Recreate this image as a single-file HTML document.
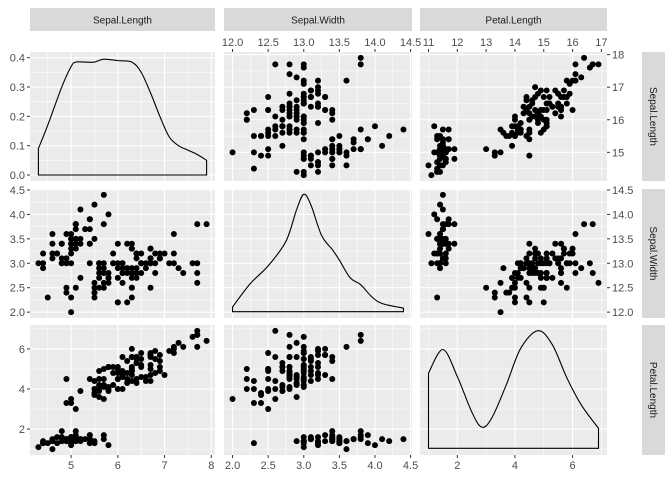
<!DOCTYPE html>
<html><head><meta charset="utf-8"><style>
body{margin:0;background:#fff}
svg{display:block;font-family:"Liberation Sans",sans-serif}
</style></head><body>
<svg id="chart" width="672" height="480" viewBox="0 0 672 480" xmlns="http://www.w3.org/2000/svg"></svg>
<script>
const varNames = ["Sepal.Length","Sepal.Width","Petal.Length"];
const sepalLength = [5.1,4.9,4.7,4.6,5.0,5.4,4.6,5.0,4.4,4.9,5.4,4.8,4.8,4.3,5.8,5.7,5.4,5.1,5.7,5.1,5.4,5.1,4.6,5.1,4.8,5.0,5.0,5.2,5.2,4.7,4.8,5.4,5.2,5.5,4.9,5.0,5.5,4.9,4.4,5.1,5.0,4.5,4.4,5.0,5.1,4.8,5.1,4.6,5.3,5.0,
7.0,6.4,6.9,5.5,6.5,5.7,6.3,4.9,6.6,5.2,5.0,5.9,6.0,6.1,5.6,6.7,5.6,5.8,6.2,5.6,5.9,6.1,6.3,6.1,6.4,6.6,6.8,6.7,6.0,5.7,5.5,5.5,5.8,6.0,5.4,6.0,6.7,6.3,5.6,5.5,5.5,6.1,5.8,5.0,5.6,5.7,5.7,6.2,5.1,5.7,
6.3,5.8,7.1,6.3,6.5,7.6,4.9,7.3,6.7,7.2,6.5,6.4,6.8,5.7,5.8,6.4,6.5,7.7,7.7,6.0,6.9,5.6,7.7,6.3,6.7,7.2,6.2,6.1,6.4,7.2,7.4,7.9,6.4,6.3,6.1,7.7,6.3,6.4,6.0,6.9,6.7,6.9,5.8,6.8,6.7,6.7,6.3,6.5,6.2,5.9];
const sepalWidth = [3.5,3.0,3.2,3.1,3.6,3.9,3.4,3.4,2.9,3.1,3.7,3.4,3.0,3.0,4.0,4.4,3.9,3.5,3.8,3.8,3.4,3.7,3.6,3.3,3.4,3.0,3.4,3.5,3.4,3.2,3.1,3.4,4.1,4.2,3.1,3.2,3.5,3.6,3.0,3.4,3.5,2.3,3.2,3.5,3.8,3.0,3.8,3.2,3.7,3.3,
3.2,3.2,3.1,2.3,2.8,2.8,3.3,2.4,2.9,2.7,2.0,3.0,2.2,2.9,2.9,3.1,3.0,2.7,2.2,2.5,3.2,2.8,2.5,2.8,2.9,3.0,2.8,3.0,2.9,2.6,2.4,2.4,2.7,2.7,3.0,3.4,3.1,2.3,3.0,2.5,2.6,3.0,2.6,2.3,2.7,3.0,2.9,2.9,2.5,2.8,
3.3,2.7,3.0,2.9,3.0,3.0,2.5,2.9,2.5,3.6,3.2,2.7,3.0,2.5,2.8,3.2,3.0,3.8,2.6,2.2,3.2,2.8,2.8,2.7,3.3,3.2,2.8,3.0,2.8,3.0,2.8,3.8,2.8,2.8,2.6,3.0,3.4,3.1,3.0,3.1,3.1,3.1,2.7,3.2,3.3,3.0,2.5,3.0,3.4,3.0];
const petalLength = [1.4,1.4,1.3,1.5,1.4,1.7,1.4,1.5,1.4,1.5,1.5,1.6,1.4,1.1,1.2,1.5,1.3,1.4,1.7,1.5,1.7,1.5,1.0,1.7,1.9,1.6,1.6,1.5,1.4,1.6,1.6,1.5,1.5,1.4,1.5,1.2,1.3,1.4,1.3,1.5,1.3,1.3,1.3,1.6,1.9,1.4,1.6,1.4,1.5,1.4,
4.7,4.5,4.9,4.0,4.6,4.5,4.7,3.3,4.6,3.9,3.5,4.2,4.0,4.7,3.6,4.4,4.5,4.1,4.5,3.9,4.8,4.0,4.9,4.7,4.3,4.4,4.8,5.0,4.5,3.5,3.8,3.7,3.9,5.1,4.5,4.5,4.7,4.4,4.1,4.0,4.4,4.6,4.0,3.3,4.2,4.2,4.2,4.3,3.0,4.1,
6.0,5.1,5.9,5.6,5.8,6.6,4.5,6.3,5.8,6.1,5.1,5.3,5.5,5.0,5.1,5.3,5.5,6.7,6.9,5.0,5.7,4.9,6.7,4.9,5.7,6.0,4.8,4.9,5.6,5.8,6.1,6.4,5.6,5.1,5.6,6.1,5.6,5.5,4.8,5.4,5.6,5.1,5.1,5.9,5.7,5.2,5.0,5.2,5.4,5.1];
// densities
const dens1X = [4.3,4.5,4.8,5.0,5.1,5.3,5.5,5.7,6.0,6.3,6.5,6.7,6.9,7.1,7.3,7.5,7.7,7.9];
const dens1Y = [0.09,0.17,0.30,0.37,0.385,0.385,0.385,0.395,0.39,0.385,0.35,0.28,0.20,0.13,0.10,0.085,0.07,0.05];
const dens2X = [2.0,2.25,2.5,2.75,2.9,3.0,3.1,3.25,3.4,3.5,3.65,3.8,3.95,4.1,4.4];
const dens2Y = [0.04,0.24,0.39,0.60,0.87,1.0,0.91,0.65,0.53,0.44,0.29,0.23,0.13,0.07,0.03];
const dens3X = [1.0,1.5,2.0,2.5,2.85,3.2,3.7,4.2,4.8,5.3,5.8,6.3,6.9];
const dens3Y = [0.64,0.84,0.61,0.31,0.18,0.26,0.54,0.85,1.0,0.88,0.60,0.37,0.17];
const dens1Ticks = ["0.0","0.1","0.2","0.3","0.4"];
const topTicks = [["12.0","12.5","13.0","13.5","14.0","14.5"],["11","12","13","14","15","16","17"]];
const rightTicks = [["15","16","17","18"],["12.0","12.5","13.0","13.5","14.0","14.5"]];

const svg = document.getElementById('chart');
const NS = "http://www.w3.org/2000/svg";
function mk(tag, attrs, parent){const e=document.createElementNS(NS,tag);for(const k in attrs)e.setAttribute(k,attrs[k]);(parent||svg).appendChild(e);return e;}
function lin(d0,d1,r0,r1){return v=>r0+(v-d0)/(d1-d0)*(r1-r0);}

const colPx = [[30,215],[224,412],[420,607]];
const rowPx = [[52,181],[189,318],[325,455]];
const dom = [[4.12,8.08],[1.88,4.52],[0.705,7.195]];
const xs = [0,1,2].map(i=>lin(dom[i][0],dom[i][1],colPx[i][0],colPx[i][1]));
const ys = [0,1,2].map(i=>lin(dom[i][0],dom[i][1],rowPx[i][1],rowPx[i][0]));
const majors = [[5,6,7,8],[2,2.5,3,3.5,4,4.5],[2,4,6]];
const minors = [[4.5,5.5,6.5,7.5],[2.25,2.75,3.25,3.75,4.25],[1,3,5,7]];
const data = [sepalLength, sepalWidth, petalLength];
const dYScale = lin(0,0.4,175,57.7);

for(let r=0;r<3;r++){for(let c=0;c<3;c++){
  const [x0,x1]=colPx[c],[y0,y1]=rowPx[r];
  const g = mk('g',{});
  
  
  mk('rect',{x:x0,y:y0,width:x1-x0,height:y1-y0,fill:'#EBEBEB'},g);
  // grid
  const yMaj = (r===0&&c===0)?[0,0.1,0.2,0.3,0.4].map(dYScale):majors[r].map(ys[r]);
  const yMin = (r===0&&c===0)?[0.05,0.15,0.25,0.35].map(dYScale):minors[r].map(ys[r]);
  yMin.forEach(y=>{if(y>y0&&y<y1)mk('line',{x1:x0,x2:x1,y1:y,y2:y,stroke:'#fff','stroke-width':0.55},g);});
  minors[c].map(xs[c]).forEach(x=>{if(x>x0&&x<x1)mk('line',{x1:x,x2:x,y1:y0,y2:y1,stroke:'#fff','stroke-width':0.55},g);});
  yMaj.forEach(y=>mk('line',{x1:x0,x2:x1,y1:y,y2:y,stroke:'#fff','stroke-width':1.1},g));
  majors[c].map(xs[c]).forEach(x=>mk('line',{x1:x,x2:x,y1:y0,y2:y1,stroke:'#fff','stroke-width':1.1},g));
  if(r===c){
    let X,Y,yf;
    if(r===0){X=dens1X;Y=dens1Y;yf=dYScale;}
    else if(r===1){X=dens2X;Y=dens2Y;yf=lin(0,1,311.7,194.3);}
    else {X=dens3X;Y=dens3Y;yf=lin(0,1,448.3,330.7);}
    let d='M'+xs[c](X[0])+','+yf(0);
    for(let i=0;i<X.length;i++){
      if(i===0){d+=' L'+xs[c](X[0])+','+yf(Y[0]);continue;}
      const xa=xs[c](X[i-1]),ya=yf(Y[i-1]),xb=xs[c](X[i]),yb=yf(Y[i]);
      const xp=i>1?xs[c](X[i-2]):xa,yp=i>1?yf(Y[i-2]):ya;
      const xn=i<X.length-1?xs[c](X[i+1]):xb,yn=i<X.length-1?yf(Y[i+1]):yb;
      d+=' C'+(xa+(xb-xp)/6)+','+(ya+(yb-yp)/6)+' '+(xb-(xn-xa)/6)+','+(yb-(yn-ya)/6)+' '+xb+','+yb;
    }
    d+=' L'+xs[c](X[X.length-1])+','+yf(0)+' Z';
    const p=mk('path',{d:d,fill:'none',stroke:'#000','stroke-width':1.1},g);
    
    
  } else {
    const dx=data[c],dy=data[r];
    for(let i=0;i<dx.length;i++){
      const pt=mk('circle',{cx:xs[c](dx[i]),cy:ys[r](dy[i]),r:3,fill:'#000'},g);
      
      
    }
  }
}}
function txt(x,y,s,anchor,size,fill,parent,rot){const t=mk('text',{x:x,y:y,'text-anchor':anchor,'font-size':size,fill:fill},parent);if(rot)t.setAttribute('transform','rotate('+rot+' '+x+' '+y+')');t.textContent=s;return t;}
// top strips
for(let c=0;c<3;c++){
  const g=mk('g',{});
  
  
  mk('rect',{x:colPx[c][0],y:8,width:colPx[c][1]-colPx[c][0],height:23,fill:'#D9D9D9'},g);
  txt((colPx[c][0]+colPx[c][1])/2,23.5,varNames[c],'middle',10,'#1A1A1A',g);
}
// right strips
for(let r=0;r<3;r++){
  const g=mk('g',{});
  
  
  mk('rect',{x:642,y:rowPx[r][0],width:23,height:rowPx[r][1]-rowPx[r][0],fill:'#D9D9D9'},g);
  txt(650,(rowPx[r][0]+rowPx[r][1])/2,varNames[r],'middle',10,'#1A1A1A',g,90);
}
const axG=mk('g',{});


// left axes
[0,0.1,0.2,0.3,0.4].forEach((v,i)=>{const y=dYScale(v);mk('line',{x1:27,x2:30,y1:y,y2:y,stroke:'#333'},axG);txt(25,y+4,dens1Ticks[i],'end',11,'#4D4D4D',axG);});
majors[1].forEach(v=>{const y=ys[1](v);mk('line',{x1:27,x2:30,y1:y,y2:y,stroke:'#333'},axG);txt(25,y+4,v.toFixed(1),'end',11,'#4D4D4D',axG);});
majors[2].forEach(v=>{const y=ys[2](v);mk('line',{x1:27,x2:30,y1:y,y2:y,stroke:'#333'},axG);txt(25,y+4,String(v),'end',11,'#4D4D4D',axG);});
// bottom axes
for(let c=0;c<3;c++){majors[c].forEach(v=>{const x=xs[c](v);mk('line',{x1:x,x2:x,y1:455,y2:458,stroke:'#333'},axG);txt(x,469,c===1?v.toFixed(1):String(v),'middle',11,'#4D4D4D',axG);});}
// top axes
[[2,2.5,3,3.5,4,4.5],[1,2,3,4,5,6,7]].forEach((vals,k)=>{const c=k+1;vals.forEach((v,i)=>{const x=xs[c](v);mk('line',{x1:x,x2:x,y1:49,y2:52,stroke:'#333'},axG);txt(x,46,topTicks[k][i],'middle',11,'#4D4D4D',axG);});});
// right axes
[[5,6,7,8],[2,2.5,3,3.5,4,4.5]].forEach((vals,r)=>{vals.forEach((v,i)=>{const y=ys[r](v);mk('line',{x1:607,x2:610,y1:y,y2:y,stroke:'#333'},axG);txt(612,y+4,rightTicks[r][i],'start',11,'#4D4D4D',axG);});});
</script>
</body></html>
